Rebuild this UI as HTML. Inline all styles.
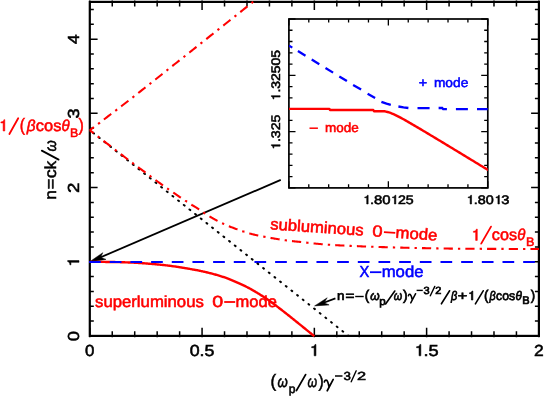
<!DOCTYPE html>
<html><head><meta charset="utf-8"><title>chart</title>
<style>
html,body{margin:0;padding:0;background:#fff;}
body{width:545px;height:398px;overflow:hidden;font-family:"Liberation Sans",sans-serif;}
svg{display:block;font-family:"Liberation Sans",sans-serif;will-change:transform;text-rendering:geometricPrecision;}
</style></head>
<body>
<svg width="545" height="398" viewBox="0 0 545 398">
<rect width="545" height="398" fill="#fff"/>
<rect x="89.8" y="1.9" width="449.10" height="334.00" fill="none" stroke="#000" stroke-width="2.2"/>
<path d="M89.80 337.29999999999995V327.70M89.80 0.50V10.10M112.25 337.29999999999995V331.30M112.25 0.50V6.50M134.71 337.29999999999995V331.30M134.71 0.50V6.50M157.17 337.29999999999995V331.30M157.17 0.50V6.50M179.62 337.29999999999995V331.30M179.62 0.50V6.50M202.07 337.29999999999995V327.70M202.07 0.50V10.10M224.53 337.29999999999995V331.30M224.53 0.50V6.50M246.99 337.29999999999995V331.30M246.99 0.50V6.50M269.44 337.29999999999995V331.30M269.44 0.50V6.50M291.89 337.29999999999995V331.30M291.89 0.50V6.50M314.35 337.29999999999995V327.70M314.35 0.50V10.10M336.81 337.29999999999995V331.30M336.81 0.50V6.50M359.26 337.29999999999995V331.30M359.26 0.50V6.50M381.71 337.29999999999995V331.30M381.71 0.50V6.50M404.17 337.29999999999995V331.30M404.17 0.50V6.50M426.62 337.29999999999995V327.70M426.62 0.50V10.10M449.08 337.29999999999995V331.30M449.08 0.50V6.50M471.54 337.29999999999995V331.30M471.54 0.50V6.50M493.99 337.29999999999995V331.30M493.99 0.50V6.50M516.44 337.29999999999995V331.30M516.44 0.50V6.50M538.90 337.29999999999995V327.70M538.90 0.50V10.10M89.8 335.90H97.60M538.9 335.90H531.10M89.8 321.06H93.80M538.9 321.06H534.90M89.8 306.23H93.80M538.9 306.23H534.90M89.8 291.39H93.80M538.9 291.39H534.90M89.8 276.56H93.80M538.9 276.56H534.90M89.8 261.72H97.60M538.9 261.72H531.10M89.8 246.88H93.80M538.9 246.88H534.90M89.8 232.05H93.80M538.9 232.05H534.90M89.8 217.21H93.80M538.9 217.21H534.90M89.8 202.38H93.80M538.9 202.38H534.90M89.8 187.54H97.60M538.9 187.54H531.10M89.8 172.70H93.80M538.9 172.70H534.90M89.8 157.87H93.80M538.9 157.87H534.90M89.8 143.03H93.80M538.9 143.03H534.90M89.8 128.20H93.80M538.9 128.20H534.90M89.8 113.36H97.60M538.9 113.36H531.10M89.8 98.52H93.80M538.9 98.52H534.90M89.8 83.69H93.80M538.9 83.69H534.90M89.8 68.85H93.80M538.9 68.85H534.90M89.8 54.02H93.80M538.9 54.02H534.90M89.8 39.18H97.60M538.9 39.18H531.10M89.8 24.34H93.80M538.9 24.34H534.90M89.8 9.51H93.80M538.9 9.51H534.90" stroke="#000" stroke-width="1.5" fill="none"/>
<clipPath id="cm"><rect x="88.8" y="0.8999999999999999" width="451.10" height="336.00"/></clipPath>
<path d="M280.80 179.90L99.00 258.00" stroke="#000" stroke-width="1.8" stroke-linecap="butt" fill="none"/>
<path d="M89.3 262.0L102.8 252.7L100.6 257.2L106 259.4Z" fill="#000" stroke="#000" stroke-width="0.5"/>
<path d="M89.80 261.90L90.30 261.90L90.87 261.90L91.51 261.90L92.21 261.90L92.97 261.90L93.79 261.90L94.65 261.90L95.55 261.90L96.49 261.90L97.47 261.90L98.48 261.90L99.51 261.91L100.56 261.91L101.62 261.91L102.69 261.91L103.77 261.92L104.85 261.92L105.92 261.93L106.99 261.94L108.04 261.95L109.07 261.96L110.08 261.97L111.05 261.98L112.00 262.00L112.93 262.02L113.88 262.04L114.83 262.06L115.79 262.08L116.75 262.10L117.72 262.12L118.70 262.15L119.67 262.17L120.65 262.20L121.62 262.23L122.59 262.26L123.56 262.29L124.52 262.32L125.47 262.35L126.42 262.38L127.35 262.41L128.28 262.45L129.19 262.48L130.08 262.52L130.96 262.55L131.83 262.59L132.67 262.63L133.50 262.66L134.30 262.70L135.08 262.74L135.83 262.78L136.56 262.81L137.27 262.85L137.96 262.89L138.63 262.93L139.28 262.97L139.93 263.01L140.56 263.05L141.18 263.09L141.79 263.14L142.40 263.18L143.00 263.23L143.61 263.27L144.21 263.32L144.82 263.37L145.43 263.42L146.05 263.47L146.67 263.52L147.31 263.57L147.96 263.63L148.62 263.68L149.30 263.74L150.00 263.80L150.71 263.86L151.43 263.92L152.16 263.98L152.90 264.05L153.64 264.11L154.39 264.18L155.14 264.24L155.90 264.31L156.67 264.38L157.44 264.45L158.21 264.52L158.98 264.59L159.76 264.67L160.54 264.74L161.32 264.82L162.10 264.90L162.88 264.98L163.66 265.06L164.44 265.15L165.21 265.23L165.99 265.32L166.76 265.41L167.53 265.51L168.30 265.60L169.06 265.70L169.83 265.80L170.60 265.90L171.36 266.00L172.13 266.11L172.90 266.21L173.66 266.32L174.43 266.43L175.20 266.55L175.96 266.66L176.73 266.78L177.50 266.89L178.27 267.01L179.04 267.13L179.80 267.25L180.57 267.38L181.34 267.50L182.10 267.63L182.87 267.75L183.64 267.88L184.40 268.01L185.17 268.14L185.94 268.27L186.70 268.40L187.46 268.53L188.23 268.66L188.99 268.79L189.75 268.92L190.52 269.06L191.28 269.19L192.04 269.32L192.80 269.46L193.57 269.59L194.33 269.73L195.09 269.87L195.85 270.01L196.61 270.15L197.37 270.29L198.13 270.44L198.90 270.59L199.66 270.74L200.42 270.90L201.18 271.05L201.95 271.22L202.71 271.38L203.47 271.55L204.24 271.72L205.00 271.90L205.77 272.08L206.54 272.27L207.32 272.46L208.10 272.65L208.89 272.84L209.68 273.04L210.47 273.25L211.27 273.45L212.06 273.66L212.85 273.87L213.64 274.08L214.43 274.30L215.22 274.52L216.00 274.74L216.77 274.96L217.54 275.18L218.31 275.41L219.06 275.63L219.81 275.86L220.55 276.09L221.28 276.31L222.00 276.54L222.71 276.77L223.40 277.00L224.08 277.23L224.75 277.46L225.41 277.69L226.07 277.93L226.71 278.16L227.34 278.40L227.97 278.64L228.59 278.88L229.20 279.12L229.81 279.37L230.41 279.61L231.01 279.86L231.60 280.10L232.19 280.35L232.77 280.60L233.36 280.85L233.94 281.10L234.52 281.36L235.10 281.61L235.67 281.87L236.25 282.12L236.83 282.38L237.42 282.64L238.00 282.90L238.58 283.16L239.15 283.41L239.72 283.67L240.28 283.92L240.83 284.17L241.38 284.41L241.93 284.66L242.47 284.91L243.01 285.16L243.55 285.41L244.09 285.67L244.63 285.92L245.17 286.19L245.72 286.45L246.27 286.72L246.82 287.00L247.38 287.28L247.94 287.57L248.51 287.87L249.09 288.18L249.68 288.49L250.27 288.82L250.88 289.15L251.50 289.50L252.13 289.86L252.77 290.22L253.42 290.60L254.08 290.98L254.74 291.37L255.41 291.77L256.09 292.17L256.78 292.58L257.47 293.00L258.16 293.42L258.86 293.85L259.56 294.29L260.27 294.73L260.97 295.17L261.68 295.62L262.39 296.07L263.10 296.53L263.80 296.99L264.51 297.45L265.22 297.92L265.92 298.39L266.62 298.86L267.31 299.33L268.00 299.80L268.69 300.28L269.38 300.76L270.06 301.24L270.75 301.74L271.44 302.23L272.12 302.73L272.81 303.24L273.50 303.75L274.19 304.26L274.88 304.78L275.56 305.30L276.25 305.82L276.94 306.34L277.62 306.87L278.31 307.40L279.00 307.93L279.69 308.46L280.38 308.99L281.06 309.53L281.75 310.06L282.44 310.60L283.12 311.13L283.81 311.67L284.50 312.20L285.19 312.74L285.89 313.28L286.58 313.83L287.29 314.38L287.99 314.94L288.70 315.50L289.41 316.06L290.12 316.63L290.83 317.20L291.54 317.76L292.24 318.33L292.95 318.90L293.65 319.47L294.35 320.03L295.05 320.59L295.74 321.15L296.42 321.70L297.10 322.25L297.77 322.79L298.44 323.33L299.09 323.86L299.74 324.38L300.37 324.90L301.00 325.40L301.63 325.90L302.26 326.42L302.91 326.94L303.56 327.46L304.21 327.99L304.86 328.52L305.51 329.05L306.16 329.58L306.81 330.10L307.44 330.62L308.07 331.13L308.68 331.62L309.28 332.11L309.86 332.59L310.43 333.05L310.97 333.49L311.49 333.91L311.99 334.32L312.45 334.70L312.89 335.05L313.30 335.38L313.67 335.69L314.00 335.96L314.30 336.20" stroke="#ff0000" stroke-width="2.4" fill="none" clip-path="url(#cm)"/>
<path d="M89.10 262.00L100.80 262.00M109.77 262.00L121.47 262.00M130.44 262.00L142.14 262.00M151.11 262.00L162.81 262.00M171.78 262.00L183.48 262.00M192.45 262.00L204.15 262.00M213.12 262.00L224.82 262.00M233.79 262.00L245.49 262.00M254.46 262.00L266.16 262.00M275.13 262.00L286.83 262.00M295.80 262.00L307.50 262.00M316.47 262.00L328.17 262.00M337.14 262.00L348.84 262.00M357.81 262.00L369.51 262.00M378.48 262.00L390.18 262.00M399.15 262.00L410.85 262.00M419.82 262.00L431.52 262.00M440.49 262.00L452.19 262.00M461.16 262.00L472.86 262.00M481.83 262.00L493.53 262.00M502.50 262.00L514.20 262.00M523.17 262.00L534.87 262.00" stroke="#0000ff" stroke-width="2.2" fill="none"/>
<path d="M93.20 132.91L93.99 133.53M98.87 137.41L99.65 138.03M104.53 141.91L105.32 142.54M110.20 146.42L110.98 147.04M115.86 150.92L116.64 151.54M121.52 155.42L122.31 156.05M127.19 159.93L127.97 160.55M132.85 164.43L133.63 165.05M138.52 168.93L139.30 169.56M144.18 173.44L144.96 174.06M149.84 177.94L150.63 178.56M155.51 182.45L156.29 183.07M161.17 186.95L161.95 187.57M166.83 191.45L167.62 192.07M172.50 195.96L173.28 196.58M178.16 200.46L178.94 201.08M183.83 204.96L184.61 205.58M189.49 209.47L190.27 210.09M195.15 213.97L195.94 214.59M200.82 218.47L201.60 219.10M206.48 222.98L207.26 223.60M212.14 227.48L212.93 228.10M217.81 231.98L218.59 232.61M223.47 236.49L224.25 237.11M229.14 240.99L229.92 241.61M234.80 245.49L235.58 246.12M240.46 250.00L241.25 250.62M246.13 254.50L246.91 255.12M251.79 259.00L252.57 259.63M257.45 263.51L258.24 264.13M263.12 268.01L263.90 268.63M268.78 272.51L269.57 273.14M274.45 277.02L275.23 277.64M280.11 281.52L280.89 282.14M285.77 286.02L286.56 286.65M291.44 290.53L292.22 291.15M297.10 295.03L297.88 295.65M302.77 299.54L303.55 300.16M308.43 304.04L309.21 304.66M314.09 308.54L314.88 309.16M319.76 313.05L320.54 313.67M325.42 317.55L326.20 318.17M331.08 322.05L331.87 322.67M336.75 326.56L337.53 327.18M342.41 331.06L343.19 331.68M348.08 335.56L348.50 335.90" stroke="#000" stroke-width="2.0" stroke-linecap="round" fill="none" clip-path="url(#cm)"/>
<path d="M89.80 130.20L90.70 129.52L91.71 128.75L92.83 127.90L93.94 127.05M98.01 123.97L98.27 123.78L99.83 122.59L99.84 122.58M103.90 119.50L104.92 118.73L106.73 117.36L108.58 115.95L110.47 114.51L111.23 113.94M115.28 110.84L116.30 110.07L117.11 109.44M121.15 106.34L122.23 105.52L124.20 104.00L126.15 102.49L128.09 100.98L128.44 100.72M132.46 97.58L133.89 96.46L134.27 96.16M138.28 93.02L140.07 91.61L142.20 89.93L144.36 88.22L145.51 87.32M149.51 84.16L150.96 83.01L151.31 82.73M155.31 79.56L155.41 79.48L157.63 77.72L159.85 75.95L162.06 74.20L162.51 73.84M166.51 70.67L168.31 69.24M172.30 66.07L172.79 65.68L174.84 64.05L176.84 62.46L178.80 60.91L179.51 60.35M183.50 57.18L184.39 56.47L185.31 55.75M189.30 52.58L189.74 52.23L191.48 50.86L193.19 49.50L194.88 48.16L196.51 46.86M200.50 43.69L201.46 42.93L202.30 42.26M206.30 39.09L207.80 37.90L209.35 36.67L210.89 35.44L212.43 34.22L213.50 33.37M217.49 30.19L218.49 29.40L219.29 28.76M223.29 25.59L224.61 24.54L226.18 23.29L227.75 22.04L229.33 20.78L230.49 19.86M234.48 16.69L235.57 15.81L236.28 15.25M240.27 12.08L241.49 11.10L242.88 9.99L244.23 8.92L245.53 7.88L246.78 6.89L247.46 6.34M251.45 3.16L252.07 2.67L252.90 2.00L253.24 1.73M257.21 -1.48L257.25 -1.52L257.40 -1.64L257.51 -1.74L257.59 -1.81L257.64 -1.86L257.68 -1.90L257.71 -1.93L257.72 -1.95L257.74 -1.96L257.75 -1.98L257.77 -2.00L257.80 -2.03L257.84 -2.07L257.91 -2.12L258.00 -2.20" stroke="#ff0000" stroke-width="2.1" fill="none" clip-path="url(#cm)"/>
<path d="M89.80 130.20L90.11 130.44L90.46 130.71L90.84 131.01L91.25 131.33L91.68 131.67L92.15 132.03L92.64 132.41L93.16 132.81L93.66 133.21M97.69 136.34L98.10 136.66L98.80 137.21L99.51 137.75M103.54 140.87L104.10 141.30L104.91 141.92L105.76 142.57L106.63 143.25L107.54 143.94L108.47 144.66L109.42 145.39L110.40 146.14L110.84 146.48M114.88 149.59L115.51 150.07L116.57 150.88L116.71 150.98M120.76 154.08L120.80 154.11L121.85 154.91L122.89 155.70L123.92 156.49L124.94 157.26L125.95 158.02L126.93 158.77L127.90 159.50L128.09 159.64M132.17 162.70L132.70 163.10L133.66 163.82L134.01 164.08M138.10 167.12L138.43 167.36L139.37 168.06L140.30 168.75L141.23 169.43L142.15 170.11L143.07 170.79L143.97 171.46L144.87 172.12L145.50 172.59M149.61 175.61L150.00 175.90L150.80 176.49L151.46 176.98M155.55 180.02L155.86 180.25L156.52 180.75L157.19 181.24L157.84 181.73L158.50 182.22L159.16 182.70L159.82 183.19L160.48 183.68L161.16 184.17L161.84 184.67L162.53 185.17L162.96 185.48M167.13 188.42L167.96 188.99L168.86 189.61L169.02 189.72M173.24 192.59L173.83 192.99L174.89 193.70L175.96 194.41L177.03 195.13L178.10 195.84L179.18 196.56L180.24 197.26L180.89 197.70M185.15 200.51L185.25 200.58L186.16 201.18L187.03 201.75L187.07 201.77M191.33 204.57L191.62 204.75L192.05 205.03L192.44 205.28L192.79 205.49L193.11 205.69L193.39 205.86L193.64 206.01L193.88 206.15L194.09 206.27L194.29 206.39L194.48 206.50L194.66 206.60L194.84 206.70L195.02 206.81L195.21 206.92L195.41 207.04L195.63 207.17L195.87 207.31L196.13 207.48L196.42 207.66L196.74 207.87L197.10 208.10L197.48 208.35L197.88 208.62L198.28 208.89L198.68 209.17L199.10 209.46L199.12 209.47M203.29 212.40L203.64 212.64L204.13 212.97L204.62 213.30L205.12 213.64L205.20 213.69M209.52 216.39L209.82 216.57L210.38 216.90L210.95 217.23L211.52 217.56L212.11 217.89L212.69 218.23L213.29 218.57L213.88 218.90L214.48 219.24L215.09 219.57L215.69 219.90L216.30 220.23L216.91 220.56L217.52 220.88L217.54 220.89M222.09 223.20L222.30 223.30L222.88 223.57L223.45 223.84L224.02 224.10L224.17 224.17M228.86 226.18L229.06 226.26L229.62 226.49L230.18 226.71L230.74 226.93L231.31 227.15L231.88 227.37L232.45 227.58L233.03 227.80L233.61 228.02L234.20 228.24L234.79 228.46L235.39 228.68L236.00 228.90L236.61 229.12L237.24 229.35L237.47 229.43M242.28 231.12L242.41 231.16L243.07 231.38L243.74 231.61L244.40 231.83L244.46 231.84M249.33 233.36L249.68 233.46L250.33 233.65L250.97 233.83L251.60 234.00L252.23 234.17L252.85 234.33L253.47 234.49L254.08 234.64L254.69 234.78L255.30 234.92L255.90 235.06L256.50 235.19L257.10 235.32L257.70 235.45L258.26 235.57M263.27 236.53L263.76 236.62L264.38 236.74L265.01 236.86L265.53 236.95M270.54 237.88L271.05 237.97L271.75 238.10L272.46 238.22L273.16 238.34L273.87 238.47L274.58 238.59L275.29 238.71L276.00 238.83L276.70 238.94L277.40 239.06L278.10 239.17L278.79 239.28L279.48 239.39L279.61 239.41M284.66 240.17L285.13 240.23L285.66 240.31L286.17 240.37L286.68 240.44L286.94 240.47M292.00 241.06L292.49 241.12L293.14 241.19L293.83 241.26L294.55 241.34L295.32 241.42L296.13 241.51L297.00 241.60L297.91 241.70L298.86 241.80L299.85 241.91L300.87 242.03L301.15 242.06M306.22 242.63L306.42 242.65L307.60 242.78L308.50 242.88M313.58 243.42L313.82 243.44L315.10 243.57L316.40 243.70L317.70 243.82L319.02 243.95L320.33 244.07L321.65 244.18L322.74 244.27M327.82 244.66L328.25 244.69L329.58 244.78L330.12 244.82M335.21 245.13L336.43 245.20L337.83 245.28L339.24 245.35L340.66 245.43L342.09 245.50L343.53 245.57L344.39 245.61M349.49 245.85L350.87 245.91L351.79 245.95M356.88 246.17L356.92 246.17L358.45 246.24L360.00 246.30L361.55 246.36L363.11 246.43L364.66 246.49L366.07 246.54M371.17 246.73L372.55 246.78L373.47 246.81M378.57 246.98L379.02 247.00L380.68 247.05L382.34 247.10L384.02 247.16L385.72 247.21L387.43 247.26L387.76 247.27M392.86 247.41L394.48 247.46L395.16 247.47M400.26 247.61L401.89 247.65L403.82 247.70L405.77 247.74L407.75 247.79L409.45 247.83M414.55 247.95L415.93 247.98L416.85 248.00M421.95 248.11L422.24 248.12L424.38 248.16L426.51 248.21L428.66 248.25L430.81 248.29L431.15 248.30M436.25 248.39L437.27 248.41L438.55 248.43M443.65 248.51L443.68 248.51L445.80 248.54L447.91 248.57L450.00 248.60L452.09 248.63L452.85 248.63M457.95 248.69L458.46 248.69L460.25 248.71M465.35 248.75L467.08 248.76L469.24 248.77L471.40 248.78L473.55 248.80L474.55 248.80M479.65 248.82L479.95 248.82L481.95 248.83M487.05 248.85L488.28 248.86L490.31 248.86L492.31 248.87L494.28 248.88L496.22 248.88L496.25 248.88M501.35 248.91L501.87 248.91L503.65 248.92M508.75 248.93L509.50 248.94L511.42 248.94L513.33 248.95L515.23 248.95L517.11 248.96L517.95 248.96M523.05 248.97L524.32 248.97L525.35 248.97M530.45 248.98L530.73 248.98L532.17 248.99L533.53 248.99L534.80 248.99L535.97 248.99L537.06 249.00L538.03 249.00L538.90 249.00" stroke="#ff0000" stroke-width="2.1" fill="none" clip-path="url(#cm)"/>
<path d="M335.40 298.40L321.00 303.80" stroke="#000" stroke-width="1.7" stroke-linecap="butt" fill="none"/>
<path d="M314.6 305.9L327.2 297.8L324.0 302.8L329.1 304.9Z" fill="#000" stroke="#000" stroke-width="0.5"/>
<rect x="288.9" y="19.0" width="198.90" height="168.90" fill="none" stroke="#000" stroke-width="1.7"/>
<path d="M288.90 187.9V181.30M288.90 19.0V25.60M308.79 187.9V184.30M308.79 19.0V22.60M328.68 187.9V184.30M328.68 19.0V22.60M348.57 187.9V184.30M348.57 19.0V22.60M368.46 187.9V184.30M368.46 19.0V22.60M388.35 187.9V181.30M388.35 19.0V25.60M408.24 187.9V184.30M408.24 19.0V22.60M428.13 187.9V184.30M428.13 19.0V22.60M448.02 187.9V184.30M448.02 19.0V22.60M467.91 187.9V184.30M467.91 19.0V22.60M487.80 187.9V181.30M487.80 19.0V25.60M288.9 19.00H295.50M487.8 19.00H481.20M288.9 30.26H292.50M487.8 30.26H484.20M288.9 41.52H292.50M487.8 41.52H484.20M288.9 52.78H292.50M487.8 52.78H484.20M288.9 64.04H292.50M487.8 64.04H484.20M288.9 75.30H295.50M487.8 75.30H481.20M288.9 86.56H292.50M487.8 86.56H484.20M288.9 97.82H292.50M487.8 97.82H484.20M288.9 109.08H292.50M487.8 109.08H484.20M288.9 120.34H292.50M487.8 120.34H484.20M288.9 131.60H295.50M487.8 131.60H481.20M288.9 142.86H292.50M487.8 142.86H484.20M288.9 154.12H292.50M487.8 154.12H484.20M288.9 165.38H292.50M487.8 165.38H484.20M288.9 176.64H292.50M487.8 176.64H484.20M288.9 187.90H295.50M487.8 187.90H481.20" stroke="#000" stroke-width="1.3" fill="none"/>
<clipPath id="ci"><rect x="288.9" y="19.0" width="198.90" height="168.90"/></clipPath>
<path d="M289.00 108.90L329.40 108.90L330.00 110.00L373.30 110.00L374.00 111.20L381.50 111.20L381.50 111.20L383.00 111.20L384.50 111.25L386.00 111.59L387.50 111.99L389.00 112.45L390.50 112.97L392.00 113.55L393.50 114.19L395.00 114.87L396.50 115.59L398.00 116.34L399.50 117.11L401.00 117.91L402.50 118.73L404.00 119.56L405.50 120.40L407.00 121.25L408.50 122.10L410.00 122.97L411.50 123.84L413.00 124.71L414.50 125.59L416.00 126.48L417.50 127.36L419.00 128.25L420.50 129.14L422.00 130.03L423.50 130.93L425.00 131.82L426.50 132.72L428.00 133.62L429.50 134.52L431.00 135.42L432.50 136.32L434.00 137.22L435.50 138.12L437.00 139.03L438.50 139.93L440.00 140.84L441.50 141.74L443.00 142.65L444.50 143.56L446.00 144.46L447.50 145.37L449.00 146.28L450.50 147.19L452.00 148.09L453.50 149.00L455.00 149.91L456.50 150.82L458.00 151.73L459.50 152.64L461.00 153.55L462.50 154.46L464.00 155.37L465.50 156.28L467.00 157.19L468.50 158.10L470.00 159.01L471.50 159.93L473.00 160.84L474.50 161.75L476.00 162.66L477.50 163.57L479.00 164.48L480.50 165.40L482.00 166.31L483.50 167.22L485.00 168.13L486.50 169.04L488.00 169.96L488.40 170.20" stroke="#ff0000" stroke-width="2.4" fill="none" stroke-linejoin="round" clip-path="url(#ci)"/>
<path d="M289.00 45.61L292.30 47.63M297.90 51.06L305.50 55.72M311.70 59.52L319.30 64.18M325.50 67.98L333.10 72.64M339.30 76.44L346.90 81.10M353.10 85.00L361.10 89.60M367.60 93.80L375.10 98.00M381.40 101.80L386.50 103.70L390.80 104.90M398.40 106.50L403.50 107.40L408.40 108.00M417.50 108.20L429.60 108.20M438.60 108.00L442.20 108.00L443.20 109.20L446.90 109.20M455.90 109.10L467.90 109.10M477.00 109.10L487.90 109.10" stroke="#0000ff" stroke-width="2.3" fill="none" clip-path="url(#ci)"/>
<path d="M314.15 355.80L314.15 347.72L311.67 347.72L311.67 346.71C313.46 346.65 314.64 346.04 315.00 344.46L315.94 344.46L315.94 355.80Z" fill="#000" stroke="#000" stroke-width="0.55" stroke-linejoin="round"/>
<path d="M419.05 355.80L419.05 347.72L416.57 347.72L416.57 346.71C418.36 346.65 419.54 346.04 419.90 344.46L420.84 344.46L420.84 355.80Z" fill="#000" stroke="#000" stroke-width="0.55" stroke-linejoin="round"/>
<path d="M81.75 265.12L81.75 257.04L79.28 257.04L79.28 256.03C81.06 255.97 82.24 255.36 82.60 253.78L83.54 253.78L83.54 265.12Z" fill="#000" stroke="#000" stroke-width="0.55" stroke-linejoin="round" transform="rotate(-90 79.00 265.12)"/>
<path d="M58.60 159.60L41.80 150.60" stroke="#000" stroke-width="1.8" stroke-linecap="round" fill="none"/>
<path d="M296.40 390.60L305.60 374.60" stroke="#000" stroke-width="1.8" stroke-linecap="round" fill="none"/>
<path d="M324.34 381.96Q324.98 379.56 326.58 380.20Q328.02 381.48 329.06 386.92M333.22 379.40L327.22 390.76" fill="none" stroke="#000" stroke-width="1.7" stroke-linecap="round" stroke-linejoin="round"/>
<path d="M335.00 376.00L342.50 376.00" stroke="#000" stroke-width="1.5" stroke-linecap="butt" fill="none"/>
<path d="M351.20 381.80L356.20 370.80" stroke="#000" stroke-width="1.4" stroke-linecap="round" fill="none"/>
<path d="M3.15 131.00L3.15 122.92L0.88 122.92L0.88 121.91C2.52 121.85 3.60 121.24 3.93 119.66L4.79 119.66L4.79 131.00Z" fill="#ff0000" stroke="#ff0000" stroke-width="0.55" stroke-linejoin="round"/>
<path d="M9.40 134.00L18.20 118.20" stroke="#ff0000" stroke-width="1.8" stroke-linecap="round" fill="none"/>
<path d="M383.86 224.40L395.18 224.40" stroke="#ff0000" stroke-width="1.8" stroke-linecap="butt" fill="none" transform="rotate(3.85 270.2 229.4)"/>
<path d="M475.65 240.40L475.65 232.32L473.38 232.32L473.38 231.31C475.02 231.25 476.10 230.64 476.43 229.06L477.29 229.06L477.29 240.40Z" fill="#ff0000" stroke="#ff0000" stroke-width="0.55" stroke-linejoin="round"/>
<path d="M481.20 243.60L491.00 226.60" stroke="#ff0000" stroke-width="1.8" stroke-linecap="round" fill="none"/>
<path d="M370.00 272.20L381.40 272.20" stroke="#0000ff" stroke-width="1.8" stroke-linecap="butt" fill="none"/>
<path d="M224.20 302.00L235.20 302.00" stroke="#ff0000" stroke-width="1.8" stroke-linecap="butt" fill="none"/>
<path d="M355.20 296.50L363.70 296.50" stroke="#000" stroke-width="1.4" stroke-linecap="butt" fill="none"/>
<path d="M385.60 304.00L394.80 291.00" stroke="#000" stroke-width="1.6" stroke-linecap="round" fill="none"/>
<path d="M408.42 295.78Q408.94 293.83 410.24 294.35Q411.41 295.39 412.25 299.81M415.63 293.70L410.76 302.93" fill="none" stroke="#000" stroke-width="1.5" stroke-linecap="round" stroke-linejoin="round"/>
<path d="M416.60 290.40L422.80 290.40" stroke="#000" stroke-width="1.4" stroke-linecap="butt" fill="none"/>
<path d="M430.30 295.80L434.80 286.40" stroke="#000" stroke-width="1.4" stroke-linecap="round" fill="none"/>
<path d="M441.40 303.80L449.60 290.80" stroke="#000" stroke-width="1.6" stroke-linecap="round" fill="none"/>
<path d="M471.44 300.00L471.44 293.64L469.55 293.64L469.55 292.84C470.91 292.79 471.81 292.31 472.09 291.07L472.81 291.07L472.81 300.00Z" fill="#000" stroke="#000" stroke-width="0.7" stroke-linejoin="round"/>
<path d="M475.40 303.80L483.20 290.80" stroke="#000" stroke-width="1.6" stroke-linecap="round" fill="none"/>
<path d="M366.73 204.00L366.73 197.74L364.77 197.74L364.77 196.96C366.19 196.91 367.12 196.44 367.40 195.21L368.15 195.21L368.15 204.00Z" fill="#000" stroke="#000" stroke-width="0.55" stroke-linejoin="round"/>
<path d="M394.43 204.00L394.43 197.74L392.47 197.74L392.47 196.96C393.89 196.91 394.82 196.44 395.10 195.21L395.85 195.21L395.85 204.00Z" fill="#000" stroke="#000" stroke-width="0.55" stroke-linejoin="round"/>
<path d="M470.13 204.00L470.13 197.74L468.17 197.74L468.17 196.96C469.59 196.91 470.52 196.44 470.80 195.21L471.55 195.21L471.55 204.00Z" fill="#000" stroke="#000" stroke-width="0.55" stroke-linejoin="round"/>
<path d="M497.93 204.00L497.93 197.74L495.97 197.74L495.97 196.96C497.39 196.91 498.32 196.44 498.60 195.21L499.35 195.21L499.35 204.00Z" fill="#000" stroke="#000" stroke-width="0.55" stroke-linejoin="round"/>
<path d="M282.33 99.30L282.33 93.04L280.38 93.04L280.38 92.26C281.79 92.21 282.72 91.74 283.00 90.51L283.75 90.51L283.75 99.30Z" fill="#000" stroke="#000" stroke-width="0.55" stroke-linejoin="round" transform="rotate(-90 280.10 99.30)"/>
<path d="M282.33 148.40L282.33 142.14L280.38 142.14L280.38 141.36C281.79 141.31 282.72 140.84 283.00 139.61L283.75 139.61L283.75 148.40Z" fill="#000" stroke="#000" stroke-width="0.55" stroke-linejoin="round" transform="rotate(-90 280.10 148.40)"/>
<path d="M309.50 128.20L317.90 128.20" stroke="#ff0000" stroke-width="1.5" stroke-linecap="butt" fill="none"/>
<text x="85.12" y="355.80" font-size="16" fill="#000" stroke="#000" stroke-width="0.55" text-anchor="start" textLength="9.39" lengthAdjust="spacingAndGlyphs" xml:space="preserve">0</text>
<text x="189.68" y="355.80" font-size="16" fill="#000" stroke="#000" stroke-width="0.55" text-anchor="start" textLength="24.73" lengthAdjust="spacingAndGlyphs" xml:space="preserve">0.5</text>
<text x="423.57" y="355.80" font-size="16" fill="#000" stroke="#000" stroke-width="0.55" text-anchor="start" textLength="15.17" lengthAdjust="spacingAndGlyphs" xml:space="preserve">.5</text>
<text x="534.06" y="355.80" font-size="16" fill="#000" stroke="#000" stroke-width="0.55" text-anchor="start" textLength="9.71" lengthAdjust="spacingAndGlyphs" xml:space="preserve">2</text>
<text x="79.00" y="341.13" font-size="16" fill="#000" stroke="#000" stroke-width="0.55" text-anchor="start" textLength="10.09" lengthAdjust="spacingAndGlyphs" transform="rotate(-90 79.00 341.13)" xml:space="preserve">0</text>
<text x="79.00" y="192.94" font-size="16" fill="#000" stroke="#000" stroke-width="0.55" text-anchor="start" textLength="10.44" lengthAdjust="spacingAndGlyphs" transform="rotate(-90 79.00 192.94)" xml:space="preserve">2</text>
<text x="79.00" y="118.59" font-size="16" fill="#000" stroke="#000" stroke-width="0.55" text-anchor="start" textLength="10.09" lengthAdjust="spacingAndGlyphs" transform="rotate(-90 79.00 118.59)" xml:space="preserve">3</text>
<text x="79.00" y="44.11" font-size="16" fill="#000" stroke="#000" stroke-width="0.55" text-anchor="start" textLength="9.62" lengthAdjust="spacingAndGlyphs" transform="rotate(-90 79.00 44.11)" xml:space="preserve">4</text>
<text x="56.20" y="199.75" font-size="16" fill="#000" stroke="#000" stroke-width="0.55" text-anchor="start" textLength="9.69" lengthAdjust="spacingAndGlyphs" transform="rotate(-90 56.20 199.75)" xml:space="preserve">n</text>
<text x="56.20" y="189.28" font-size="16" fill="#000" stroke="#000" stroke-width="0.55" text-anchor="start" textLength="10.67" lengthAdjust="spacingAndGlyphs" transform="rotate(-90 56.20 189.28)" xml:space="preserve">=</text>
<text x="56.20" y="178.13" font-size="16" fill="#000" stroke="#000" stroke-width="0.55" text-anchor="start" textLength="9.02" lengthAdjust="spacingAndGlyphs" transform="rotate(-90 56.20 178.13)" xml:space="preserve">c</text>
<text x="56.20" y="169.20" font-size="16" fill="#000" stroke="#000" stroke-width="0.55" text-anchor="start" textLength="8.32" lengthAdjust="spacingAndGlyphs" transform="rotate(-90 56.20 169.20)" xml:space="preserve">k</text>
<text x="56.20" y="151.47" font-size="16" fill="#000" stroke="#000" stroke-width="0.55" text-anchor="start" textLength="11.21" lengthAdjust="spacingAndGlyphs" transform="rotate(-90 56.20 151.47)" font-style="italic" xml:space="preserve">ω</text>
<text x="270.62" y="387.04" font-size="17.84" fill="#000" stroke="#000" stroke-width="0.55" text-anchor="start" textLength="5.59" lengthAdjust="spacingAndGlyphs" xml:space="preserve">(</text>
<text x="277.46" y="387.40" font-size="16" fill="#000" stroke="#000" stroke-width="0.55" text-anchor="start" textLength="10.24" lengthAdjust="spacingAndGlyphs" font-style="italic" xml:space="preserve">ω</text>
<text x="288.73" y="393.00" font-size="12.2" fill="#000" stroke="#000" stroke-width="0.55" text-anchor="start" textLength="6.72" lengthAdjust="spacingAndGlyphs" xml:space="preserve">p</text>
<text x="307.39" y="387.40" font-size="16" fill="#000" stroke="#000" stroke-width="0.55" text-anchor="start" textLength="9.59" lengthAdjust="spacingAndGlyphs" font-style="italic" xml:space="preserve">ω</text>
<text x="318.57" y="387.04" font-size="17.84" fill="#000" stroke="#000" stroke-width="0.55" text-anchor="start" textLength="5.19" lengthAdjust="spacingAndGlyphs" xml:space="preserve">)</text>
<text x="343.41" y="379.90" font-size="11.7" fill="#000" stroke="#000" stroke-width="0.55" text-anchor="start" textLength="7.40" lengthAdjust="spacingAndGlyphs" xml:space="preserve">3</text>
<text x="357.00" y="379.90" font-size="11.7" fill="#000" stroke="#000" stroke-width="0.55" text-anchor="start" textLength="9.11" lengthAdjust="spacingAndGlyphs" xml:space="preserve">2</text>
<text x="19.69" y="130.64" font-size="17.84" fill="#ff0000" stroke="#ff0000" stroke-width="0.55" text-anchor="start" textLength="5.20" lengthAdjust="spacingAndGlyphs" xml:space="preserve">(</text>
<text x="26.63" y="131.00" font-size="16" fill="#ff0000" stroke="#ff0000" stroke-width="0.55" text-anchor="start" textLength="8.76" lengthAdjust="spacingAndGlyphs" font-style="italic" xml:space="preserve">β</text>
<text x="35.83" y="131.00" font-size="16" fill="#ff0000" stroke="#ff0000" stroke-width="0.55" text-anchor="start" textLength="25.53" lengthAdjust="spacingAndGlyphs" xml:space="preserve">cos</text>
<text x="61.57" y="131.00" font-size="16" fill="#ff0000" stroke="#ff0000" stroke-width="0.55" text-anchor="start" textLength="8.12" lengthAdjust="spacingAndGlyphs" font-style="italic" xml:space="preserve">θ</text>
<text x="69.97" y="136.60" font-size="12.3" fill="#ff0000" stroke="#ff0000" stroke-width="0.55" text-anchor="start" textLength="8.27" lengthAdjust="spacingAndGlyphs" xml:space="preserve">B</text>
<text x="78.46" y="130.64" font-size="17.84" fill="#ff0000" stroke="#ff0000" stroke-width="0.55" text-anchor="start" textLength="5.32" lengthAdjust="spacingAndGlyphs" xml:space="preserve">)</text>
<text x="269.95" y="229.40" font-size="16" fill="#ff0000" stroke="#ff0000" stroke-width="0.55" text-anchor="start" textLength="93.58" lengthAdjust="spacingAndGlyphs" transform="rotate(3.85 270.20 229.40)" xml:space="preserve">subluminous</text>
<text x="372.29" y="229.40" font-size="16" fill="#ff0000" stroke="#ff0000" stroke-width="0.55" text-anchor="start" textLength="10.24" lengthAdjust="spacingAndGlyphs" transform="rotate(3.85 270.20 229.40)" xml:space="preserve">0</text>
<text x="395.59" y="229.40" font-size="16" fill="#ff0000" stroke="#ff0000" stroke-width="0.55" text-anchor="start" textLength="41.72" lengthAdjust="spacingAndGlyphs" transform="rotate(3.85 270.20 229.40)" xml:space="preserve">mode</text>
<text x="491.84" y="240.40" font-size="16" fill="#ff0000" stroke="#ff0000" stroke-width="0.55" text-anchor="start" textLength="25.21" lengthAdjust="spacingAndGlyphs" xml:space="preserve">cos</text>
<text x="517.37" y="240.40" font-size="16" fill="#ff0000" stroke="#ff0000" stroke-width="0.55" text-anchor="start" textLength="8.12" lengthAdjust="spacingAndGlyphs" font-style="italic" xml:space="preserve">θ</text>
<text x="526.05" y="246.10" font-size="12.3" fill="#ff0000" stroke="#ff0000" stroke-width="0.55" text-anchor="start" textLength="8.39" lengthAdjust="spacingAndGlyphs" xml:space="preserve">B</text>
<text x="359.43" y="277.40" font-size="16" fill="#0000ff" stroke="#0000ff" stroke-width="0.55" text-anchor="start" textLength="9.78" lengthAdjust="spacingAndGlyphs" xml:space="preserve">X</text>
<text x="381.70" y="277.40" font-size="16" fill="#0000ff" stroke="#0000ff" stroke-width="0.55" text-anchor="start" textLength="41.83" lengthAdjust="spacingAndGlyphs" xml:space="preserve">mode</text>
<text x="95.05" y="307.00" font-size="16" fill="#ff0000" stroke="#ff0000" stroke-width="0.55" text-anchor="start" textLength="108.75" lengthAdjust="spacingAndGlyphs" xml:space="preserve">superluminous</text>
<text x="212.21" y="307.00" font-size="16" fill="#ff0000" stroke="#ff0000" stroke-width="0.55" text-anchor="start" textLength="10.91" lengthAdjust="spacingAndGlyphs" xml:space="preserve">0</text>
<text x="235.61" y="307.00" font-size="16" fill="#ff0000" stroke="#ff0000" stroke-width="0.55" text-anchor="start" textLength="41.31" lengthAdjust="spacingAndGlyphs" xml:space="preserve">mode</text>
<text x="336.91" y="300.00" font-size="12.6" fill="#000" stroke="#000" stroke-width="0.7" text-anchor="start" textLength="7.56" lengthAdjust="spacingAndGlyphs" xml:space="preserve">n</text>
<text x="345.49" y="300.00" font-size="12.6" fill="#000" stroke="#000" stroke-width="0.7" text-anchor="start" textLength="8.89" lengthAdjust="spacingAndGlyphs" xml:space="preserve">=</text>
<text x="364.71" y="299.72" font-size="14.05" fill="#000" stroke="#000" stroke-width="0.7" text-anchor="start" textLength="4.52" lengthAdjust="spacingAndGlyphs" xml:space="preserve">(</text>
<text x="370.19" y="300.00" font-size="12.6" fill="#000" stroke="#000" stroke-width="0.7" text-anchor="start" textLength="9.38" lengthAdjust="spacingAndGlyphs" font-style="italic" xml:space="preserve">ω</text>
<text x="379.37" y="305.00" font-size="11" fill="#000" stroke="#000" stroke-width="0.7" text-anchor="start" textLength="6.40" lengthAdjust="spacingAndGlyphs" xml:space="preserve">p</text>
<text x="393.63" y="300.00" font-size="12.6" fill="#000" stroke="#000" stroke-width="0.7" text-anchor="start" textLength="8.40" lengthAdjust="spacingAndGlyphs" font-style="italic" xml:space="preserve">ω</text>
<text x="403.03" y="299.72" font-size="14.05" fill="#000" stroke="#000" stroke-width="0.7" text-anchor="start" textLength="4.65" lengthAdjust="spacingAndGlyphs" xml:space="preserve">)</text>
<text x="423.55" y="293.80" font-size="10.4" fill="#000" stroke="#000" stroke-width="0.7" text-anchor="start" textLength="6.13" lengthAdjust="spacingAndGlyphs" xml:space="preserve">3</text>
<text x="435.22" y="293.80" font-size="10.4" fill="#000" stroke="#000" stroke-width="0.7" text-anchor="start" textLength="6.09" lengthAdjust="spacingAndGlyphs" xml:space="preserve">2</text>
<text x="450.97" y="300.00" font-size="12.6" fill="#000" stroke="#000" stroke-width="0.7" text-anchor="start" textLength="6.26" lengthAdjust="spacingAndGlyphs" font-style="italic" xml:space="preserve">β</text>
<text x="457.74" y="300.00" font-size="12.6" fill="#000" stroke="#000" stroke-width="0.7" text-anchor="start" textLength="9.49" lengthAdjust="spacingAndGlyphs" xml:space="preserve">+</text>
<text x="483.91" y="299.72" font-size="14.05" fill="#000" stroke="#000" stroke-width="0.7" text-anchor="start" textLength="4.52" lengthAdjust="spacingAndGlyphs" xml:space="preserve">(</text>
<text x="489.56" y="300.00" font-size="12.6" fill="#000" stroke="#000" stroke-width="0.7" text-anchor="start" textLength="6.16" lengthAdjust="spacingAndGlyphs" font-style="italic" xml:space="preserve">β</text>
<text x="496.06" y="300.00" font-size="12.6" fill="#000" stroke="#000" stroke-width="0.7" text-anchor="start" textLength="19.05" lengthAdjust="spacingAndGlyphs" xml:space="preserve">cos</text>
<text x="515.57" y="300.00" font-size="12.6" fill="#000" stroke="#000" stroke-width="0.7" text-anchor="start" textLength="6.36" lengthAdjust="spacingAndGlyphs" font-style="italic" xml:space="preserve">θ</text>
<text x="522.37" y="304.00" font-size="11" fill="#000" stroke="#000" stroke-width="0.7" text-anchor="start" textLength="7.37" lengthAdjust="spacingAndGlyphs" xml:space="preserve">B</text>
<text x="530.63" y="299.72" font-size="14.05" fill="#000" stroke="#000" stroke-width="0.7" text-anchor="start" textLength="4.39" lengthAdjust="spacingAndGlyphs" xml:space="preserve">)</text>
<text x="369.92" y="204.00" font-size="12.4" fill="#000" stroke="#000" stroke-width="0.55" text-anchor="start" textLength="20.68" lengthAdjust="spacingAndGlyphs" xml:space="preserve">.80</text>
<text x="397.96" y="204.00" font-size="12.4" fill="#000" stroke="#000" stroke-width="0.55" text-anchor="start" textLength="15.78" lengthAdjust="spacingAndGlyphs" xml:space="preserve">25</text>
<text x="473.67" y="204.00" font-size="12.4" fill="#000" stroke="#000" stroke-width="0.55" text-anchor="start" textLength="20.02" lengthAdjust="spacingAndGlyphs" xml:space="preserve">.80</text>
<text x="501.18" y="204.00" font-size="12.4" fill="#000" stroke="#000" stroke-width="0.55" text-anchor="start" textLength="8.16" lengthAdjust="spacingAndGlyphs" xml:space="preserve">3</text>
<text x="280.10" y="92.59" font-size="12.4" fill="#000" stroke="#000" stroke-width="0.55" text-anchor="start" textLength="42.73" lengthAdjust="spacingAndGlyphs" transform="rotate(-90 280.10 92.59)" xml:space="preserve">.32505</text>
<text x="280.10" y="142.11" font-size="12.4" fill="#000" stroke="#000" stroke-width="0.55" text-anchor="start" textLength="27.62" lengthAdjust="spacingAndGlyphs" transform="rotate(-90 280.10 142.11)" xml:space="preserve">.325</text>
<text x="418.78" y="87.10" font-size="13" fill="#0000ff" stroke="#0000ff" stroke-width="0.55" text-anchor="start" textLength="8.40" lengthAdjust="spacingAndGlyphs" xml:space="preserve">+</text>
<text x="433.95" y="87.10" font-size="13" fill="#0000ff" stroke="#0000ff" stroke-width="0.55" text-anchor="start" textLength="34.36" lengthAdjust="spacingAndGlyphs" xml:space="preserve">mode</text>
<text x="325.07" y="132.30" font-size="13" fill="#ff0000" stroke="#ff0000" stroke-width="0.55" text-anchor="start" textLength="33.73" lengthAdjust="spacingAndGlyphs" xml:space="preserve">mode</text>
</svg>
</body></html>
